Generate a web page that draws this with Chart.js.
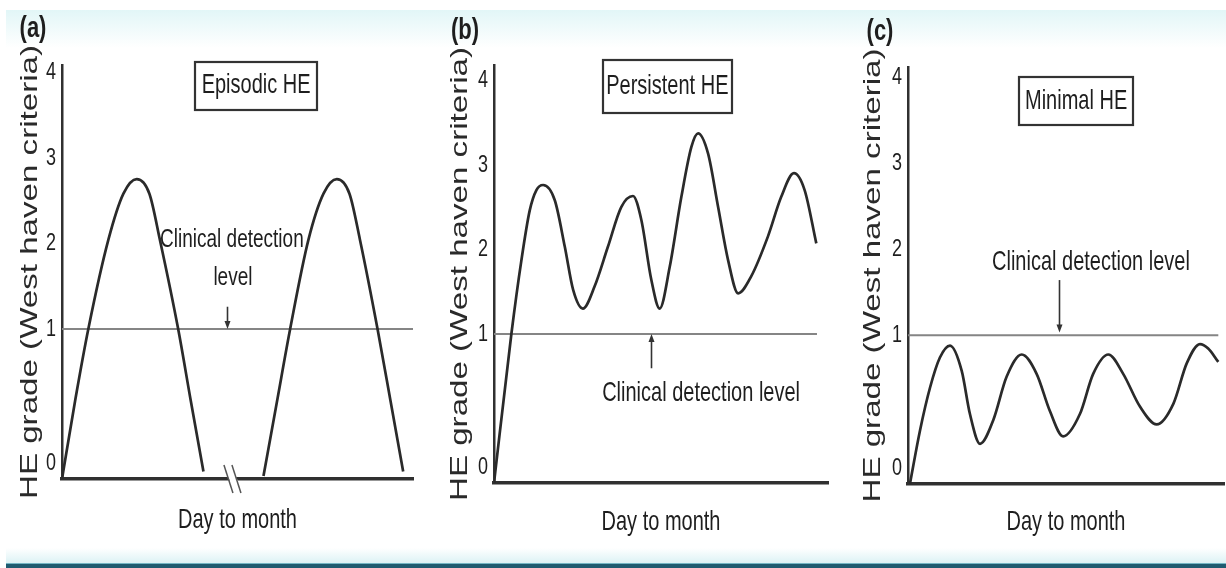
<!DOCTYPE html>
<html>
<head>
<meta charset="utf-8">
<title>Hepatic encephalopathy patterns</title>
<script src="https://cdn.jsdelivr.net/npm/chart.js@4/dist/chart.umd.min.js"></script>
<style>
  html, body { margin: 0; padding: 0; background: #ffffff; }
  #stage { position: relative; width: 1226px; height: 568px; overflow: hidden; background: #ffffff; }
  .band-top { position: absolute; left: 6px; top: 10px; width: 1220px; height: 38px;
              background: linear-gradient(#e2f6f7, #ffffff); }
  .band-bottom { position: absolute; left: 6px; top: 548px; width: 1220px; height: 15px;
                 background: linear-gradient(#ffffff, #dcf2f5); }
  .bar { position: absolute; left: 6px; top: 563px; width: 1220px; height: 5px;
         background: #1f5b70; border-top: 1px solid #74b6c4; box-sizing: border-box; }
  canvas { position: absolute; top: 0; }
</style>
</head>
<body>
<div id="stage">
  <div class="band-top"></div>
  <div class="band-bottom"></div>
  <div class="bar"></div>
  <canvas id="episodic" width="418" height="560" style="left:0px"></canvas>
  <canvas id="persistent" width="402" height="560" style="left:430px"></canvas>
  <canvas id="minimal" width="383" height="560" style="left:843px"></canvas>
</div>
<script>
const FONT = "'Liberation Sans', Arial, Helvetica, sans-serif";
const INK = '#1e1e1e';
const LETTER_STRETCH = 1.38;

// ---- values ----
const gradeTicks = [0, 1, 2, 3, 4];
const detectionLevel = 1;

// (a) episodic HE: two separate episodes
const episodeOneDays  = [0, 3.8, 7.5, 13.2, 17.5, 21.3, 24.9, 27.9, 33.1, 36.7, 40.3];
const episodeOneGrade = [0, 0.53, 1.0, 2.04, 2.58, 2.75, 2.58, 2.04, 1.0, 0.52, 0.05];
const episodeTwoDays  = [57.4, 61.2, 65.0, 70.2, 74.5, 78.3, 81.9, 84.9, 89.9, 93.6, 97.2];
const episodeTwoGrade = [0.02, 0.51, 1.0, 2.04, 2.58, 2.75, 2.58, 2.04, 1.0, 0.52, 0.05];

// (b) persistent HE
const persistentDays  = [0, 5.2, 8.2, 10.7, 12.7, 14.7, 18.2, 21.2, 23.7, 26.6, 30.1, 34.1, 38.1, 41.6, 44.1, 47.1,
                         49.6, 52.6, 56.1, 59.1, 61.1, 64.1, 67.1, 70.1, 73.1, 77.0, 82.0, 86.0, 89.8, 93.0, 96.5];
const persistentGrade = [0, 1.0, 1.87, 2.46, 2.70, 2.76, 2.58, 2.03, 1.52, 1.30, 1.56, 2.03, 2.50, 2.63, 2.35, 1.64,
                         1.30, 1.79, 2.62, 3.21, 3.37, 3.13, 2.50, 1.87, 1.48, 1.68, 2.15, 2.62, 2.90, 2.70, 2.07];

// (c) minimal HE
const minimalDays  = [0.6, 3.8, 7.0, 10.1, 13.3, 17.0, 19.6, 22.8, 27.0, 31.2, 36.0, 40.7, 44.9, 49.1, 54.4, 58.6,
                      63.4, 68.1, 73.4, 78.7, 84.0, 88.2, 92.4, 95.0, 98.2];
const minimalGrade = [0, 0.36, 0.65, 0.85, 0.93, 0.76, 0.47, 0.27, 0.43, 0.72, 0.87, 0.74, 0.49, 0.32, 0.47, 0.74,
                      0.87, 0.74, 0.52, 0.40, 0.54, 0.81, 0.94, 0.91, 0.82];

// extent of the clinical detection line along the time axis
const detectionSpanA = [0, 100];
const detectionSpanB = [0, 96.7];
const detectionSpanC = [0, 98.2];

// ---- helpers ----
const points = (xs, ys) => xs.map((x, i) => ({ x, y: ys[i] }));

// Tall, condensed lettering: stretch each glyph run vertically about its anchor.
function tallLettering(ctx, s) {
  const fill = ctx.fillText;
  ctx.fillText = function (text, x, y, maxWidth) {
    const m = this.getTransform();
    const p = m.transformPoint(new DOMPoint(x, y));
    this.save();
    this.setTransform(new DOMMatrix().translate(p.x, p.y).scale(1, s).translate(-p.x, -p.y).multiply(m));
    if (maxWidth === undefined) fill.call(this, text, x, y);
    else fill.call(this, text, x, y, maxWidth);
    this.restore();
  };
}

// Grade axis with a wider band between 0 and 1 than between the higher grades.
class KnotScale extends Chart.LinearScale {
  static id = 'knot';
  static defaults = { ticks: { callback: Chart.Ticks.formatters.numeric } };
  _segment(k, key, v) {
    let i = 1;
    while (i < k.length - 1 && v > k[i][key]) i++;
    return [k[i - 1], k[i]];
  }
  getPixelForValue(value) {
    if (value === null || value === undefined) return NaN;
    const k = this.options.knots;
    const [[v0, f0], [v1, f1]] = this._segment(k, 0, value);
    return this.getPixelForDecimal(f0 + (value - v0) * (f1 - f0) / (v1 - v0));
  }
  getValueForPixel(pixel) {
    const d = this.getDecimalForPixel(pixel);
    const k = this.options.knots;
    const [[v0, f0], [v1, f1]] = this._segment(k, 1, d);
    return v0 + (d - f0) * (v1 - v0) / (f1 - f0);
  }
  getPixelForTick(index) {
    const t = this.ticks[index];
    const px = this.getPixelForValue(t.value);
    return t.value === 0 ? px - (this.options.baseLabelLift || 0) : px;
  }
}
Chart.register(KnotScale);

function topOf(knots) {
  const [v1, f1] = knots[knots.length - 2], [v2, f2] = knots[knots.length - 1];
  return v2 + (1 - f2) * (v2 - v1) / (f2 - f1);
}

function panelNotes(p) {
  return {
    id: 'panelNotes',
    afterDatasetsDraw(chart) {
      const { ctx, scales: { x, y }, chartArea } = chart;
      ctx.save();
      ctx.textAlign = 'center';
      ctx.textBaseline = 'middle';
      ctx.fillStyle = INK;
      ctx.strokeStyle = '#333333';

      // panel letter
      ctx.font = `bold 22px ${FONT}`;
      ctx.fillText(p.letter.text, p.letter.left, p.letter.top);

      // boxed pattern name
      const b = p.nameBox;
      ctx.font = `20px ${FONT}`;
      const bx = x.getPixelForValue(b.x), by = y.getPixelForValue(b.y);
      ctx.lineWidth = 2.2;
      ctx.strokeRect(Math.round(bx - b.w / 2), Math.round(by - b.h / 2), b.w, b.h);
      ctx.fillText(b.text, bx, by);

      // detection-level notes
      for (const n of p.notes) {
        ctx.font = `${n.size}px ${FONT}`;
        ctx.fillText(n.text, x.getPixelForValue(n.x), y.getPixelForValue(n.y));
      }

      // arrow to the detection line
      const a = p.arrow;
      const ax = Math.round(x.getPixelForValue(a.x)) + 0.5;
      const y0 = y.getPixelForValue(a.from), y1 = y.getPixelForValue(a.to);
      const dir = Math.sign(y1 - y0);
      ctx.lineWidth = 1.6;
      ctx.beginPath();
      ctx.moveTo(ax, y0);
      ctx.lineTo(ax, y1 - dir * 6);
      ctx.stroke();
      ctx.fillStyle = '#333333';
      ctx.beginPath();
      ctx.moveTo(ax, y1);
      ctx.lineTo(ax - 3, y1 - dir * 8);
      ctx.lineTo(ax + 3, y1 - dir * 8);
      ctx.closePath();
      ctx.fill();

      // time-axis break
      if (p.axisBreak !== undefined) {
        const cx = x.getPixelForValue(p.axisBreak), cy = chartArea.bottom;
        ctx.fillStyle = '#ffffff';
        ctx.beginPath();
        ctx.moveTo(cx - 7, cy - 6); ctx.lineTo(cx + 1, cy - 6);
        ctx.lineTo(cx + 7, cy + 6); ctx.lineTo(cx - 1, cy + 6);
        ctx.closePath();
        ctx.fill();
        ctx.strokeStyle = '#555555';
        ctx.lineWidth = 1.5;
        for (const dx of [-4, 4]) {
          ctx.beginPath();
          ctx.moveTo(cx + dx - 5, cy - 14);
          ctx.lineTo(cx + dx + 4, cy + 14);
          ctx.stroke();
        }
      }
      ctx.restore();
    }
  };
}

const curveStyle = {
  borderColor: '#2a2a2a', borderWidth: 2.7, pointRadius: 0,
  cubicInterpolationMode: 'monotone', fill: false
};
const detectionStyle = {
  borderColor: '#858585', borderWidth: 2, pointRadius: 0, tension: 0, fill: false
};
const levelLine = span => span.map(d => ({ x: d, y: detectionLevel }));

const panels = [
  {
    canvas: 'episodic', yWidth: 62, padTop: 65, padRight: 5, xHeight: 81, titleGap: 28,
    knots: [[0, 0], [1, 0.3623], [4, 0.983]],
    datasets: [
      { ...curveStyle, data: points(episodeOneDays, episodeOneGrade) },
      { ...curveStyle, data: points(episodeTwoDays, episodeTwoGrade) },
      { ...detectionStyle, data: levelLine(detectionSpanA) }
    ],
    notes: {
      letter: { text: '(a)', left: 33, top: 29 },
      nameBox: { text: 'Episodic HE', x: 55.3, y: 3.84, w: 122, h: 48 },
      notes: [
        { text: 'Clinical detection', x: 48.4, y: 2.04, size: 19 },
        { text: 'level', x: 48.7, y: 1.6, size: 19 }
      ],
      arrow: { x: 47, from: 1.26, to: 1.0 },
      axisBreak: 48.7
    }
  },
  {
    canvas: 'persistent', yWidth: 64, padTop: 65, padRight: 4, xHeight: 77, titleGap: 26,
    knots: [[0, 0], [1, 0.3565], [4, 0.964]],
    datasets: [
      { ...curveStyle, data: points(persistentDays, persistentGrade) },
      { ...detectionStyle, data: levelLine(detectionSpanB) }
    ],
    notes: {
      letter: { text: '(b)', left: 35, top: 31 },
      nameBox: { text: 'Persistent HE', x: 51.9, y: 3.92, w: 129, h: 53 },
      notes: [{ text: 'Clinical detection level', x: 62.0, y: 0.60, size: 20 }],
      arrow: { x: 47.1, from: 0.77, to: 1.0 }
    }
  },
  {
    canvas: 'minimal', yWidth: 65, padTop: 67, padRight: 2, xHeight: 76, titleGap: 26,
    knots: [[0, 0], [1, 0.357], [4, 0.976]],
    datasets: [
      { ...curveStyle, data: points(minimalDays, minimalGrade) },
      { ...detectionStyle, data: levelLine(detectionSpanC) }
    ],
    notes: {
      letter: { text: '(c)', left: 37, top: 32 },
      nameBox: { text: 'Minimal HE', x: 53.2, y: 3.72, w: 114, h: 48 },
      notes: [{ text: 'Clinical detection level', x: 57.9, y: 1.85, size: 20 }],
      arrow: { x: 47.9, from: 1.64, to: 1.03 }
    }
  }
];

for (const p of panels) {
  const el = document.getElementById(p.canvas);
  const ctx = el.getContext('2d');
  tallLettering(ctx, LETTER_STRETCH);
  new Chart(ctx, {
    type: 'line',
    data: { datasets: p.datasets },
    options: {
      responsive: false,
      animation: false,
      events: [],
      layout: { padding: { top: p.padTop, right: p.padRight, bottom: 0, left: 0 } },
      plugins: { legend: { display: false }, tooltip: { enabled: false }, title: { display: false } },
      scales: {
        x: {
          type: 'linear', min: 0, max: 100,
          ticks: { display: false },
          grid: { display: false, drawTicks: false },
          border: { display: true, color: '#303030', width: 3.5 },
          title: {
            display: true, text: 'Day to month', color: INK,
            font: { family: FONT, size: 20 },
            padding: { top: 0, bottom: p.titleGap }
          },
          afterFit: s => { s.height = p.xHeight; }
        },
        y: {
          type: 'knot', min: 0, max: topOf(p.knots), knots: p.knots, baseLabelLift: 16,
          afterBuildTicks: s => { s.ticks = gradeTicks.map(v => ({ value: v })); },
          ticks: {
            autoSkip: false, padding: 6, color: INK,
            font: { family: FONT, size: 18 },
            callback: v => String(v)
          },
          grid: { display: false, drawTicks: false },
          border: { display: true, color: '#303030', width: 2.5 },
          title: {
            display: true, text: 'HE grade (West haven criteria)', color: '#2a2a2a',
            font: { family: FONT, size: 24 },
            padding: { top: 16, bottom: 0 }
          },
          afterFit: s => { s.width = p.yWidth; }
        }
      }
    },
    plugins: [panelNotes(p.notes)]
  });
}
</script>
</body>
</html>
